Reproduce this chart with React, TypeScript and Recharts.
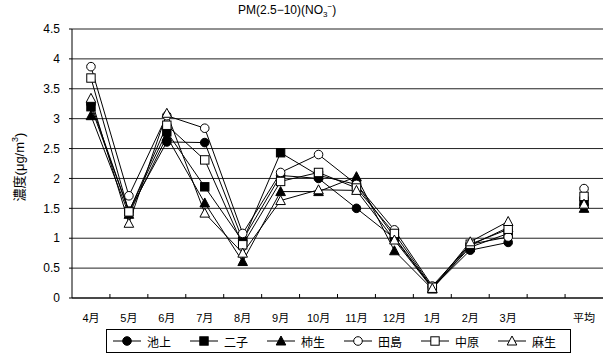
import React from 'react';
import { LineChart, Line, XAxis, YAxis, CartesianGrid, Legend } from 'recharts';

const months = ['4月', '5月', '6月', '7月', '8月', '9月', '10月', '11月', '12月', '1月', '2月', '3月', '', '平均'];

const ikegami = [3.25, 1.45, 2.61, 2.6, 0.97, 2.05, 2.0, 1.5, 1.0, 0.17, 0.8, 0.93, null, 1.55];
const futago = [3.2, 1.45, 2.78, 1.86, 0.95, 2.43, 2.05, 1.9, 1.02, 0.17, 0.85, 1.08, null, 1.62];
const kakio = [3.05, 1.4, 2.7, 1.59, 0.61, 1.78, 1.78, 2.03, 0.79, 0.15, 0.88, 1.18, null, 1.5];
const tajima = [3.87, 1.71, 3.05, 2.84, 1.08, 2.1, 2.4, 1.9, 1.14, 0.2, 0.9, 1.02, null, 1.83];
const nakahara = [3.68, 1.44, 2.89, 2.31, 0.89, 1.95, 2.1, 1.84, 1.08, 0.18, 0.9, 1.15, null, 1.7];
const asao = [3.34, 1.25, 3.09, 1.42, 0.75, 1.63, 1.81, 1.8, 0.97, 0.16, 0.94, 1.28, null, 1.57];

const yTicks = [0, 0.5, 1, 1.5, 2, 2.5, 3, 3.5, 4, 4.5];

const SERIES = [
  { key: 'ikegami', name: '池上', shape: 'circle', filled: true, values: ikegami },
  { key: 'futago', name: '二子', shape: 'square', filled: true, values: futago },
  { key: 'kakio', name: '柿生', shape: 'triangle', filled: true, values: kakio },
  { key: 'tajima', name: '田島', shape: 'circle', filled: false, values: tajima },
  { key: 'nakahara', name: '中原', shape: 'square', filled: false, values: nakahara },
  { key: 'asao', name: '麻生', shape: 'triangle', filled: false, values: asao },
];

const data = months.map((m, i) => {
  const row: any = { month: m };
  SERIES.forEach(s => { row[s.key] = s.values[i]; });
  return row;
});

const FONT = '"Liberation Sans", Arial, "Noto Sans CJK JP", sans-serif';
const BAND = 531 / months.length;
const LEGEND_H = 24;

function Marker({ cx, cy, shape, filled }: any) {
  const fill = filled ? '#000' : '#fff';
  if (shape === 'circle') return <circle cx={cx} cy={cy} r={4.3} fill={fill} stroke="#000" strokeWidth={1} />;
  if (shape === 'square') return <rect x={cx - 4.2} y={cy - 4.2} width={8.4} height={8.4} fill={fill} stroke="#000" strokeWidth={1} />;
  return <polygon points={`${cx},${cy - 5} ${cx - 4.8},${cy + 4} ${cx + 4.8},${cy + 4}`} fill={fill} stroke="#000" strokeWidth={1} />;
}

function renderDot(s: any) {
  return (props: any) => {
    const { cx, cy, value, index } = props;
    if (value == null || cy == null) return <g key={`${s.key}-${index}`} />;
    return <Marker key={`${s.key}-${index}`} cx={cx} cy={cy} shape={s.shape} filled={s.filled} />;
  };
}

function MonthTick({ x, y, payload, index }: any) {
  return (
    <g>
      {index > 0 && <line x1={x - BAND / 2} x2={x - BAND / 2} y1={y} y2={y - 4} stroke="#000" />}
      <text x={x} y={y + 24} textAnchor="middle" fontSize={11} fill="#000" fontFamily={FONT}>{payload.value}</text>
    </g>
  );
}

function LegendBox() {
  return (
    <div style={{ border: '1px solid #000', height: LEGEND_H, display: 'flex', alignItems: 'center', paddingLeft: 6, gap: 19, fontSize: 12, fontFamily: FONT, boxSizing: 'border-box' }}>
      {SERIES.map(s => (
        <div key={s.key} style={{ display: 'flex', alignItems: 'center', gap: 6 }}>
          <svg width={28} height={12}>
            <line x1={0} x2={28} y1={6} y2={6} stroke="#000" />
            <Marker cx={14} cy={6} shape={s.shape} filled={s.filled} />
          </svg>
          <span>{s.name}</span>
        </div>
      ))}
    </div>
  );
}

export default function App() {
  return (
    <div style={{ position: 'absolute', left: 0, top: 0, width: 603, height: 360, background: '#fff', fontFamily: FONT }}>
      <div style={{ position: 'absolute', left: 238, top: 2, fontSize: 12, whiteSpace: 'nowrap', zIndex: 2 }}>
        PM(2.5−10)(NO<sub style={{ fontSize: 8 }}>3</sub><sup style={{ fontSize: 8 }}>−</sup>)
      </div>
      <div style={{ position: 'absolute', left: 18, top: 167, transform: 'translate(-50%, -50%) rotate(-90deg)', fontSize: 13, whiteSpace: 'nowrap', zIndex: 2 }}>
        濃度(μg/m<sup style={{ fontSize: 9 }}>3</sup>)
      </div>
      <LineChart width={603} height={360} data={data} margin={{ top: 29, right: 0, left: 0, bottom: 0 }}>
        <CartesianGrid vertical={false} stroke="#222" strokeWidth={1} />
        <XAxis
          dataKey="month"
          height={62 - LEGEND_H}
          interval={0}
          padding={{ left: BAND / 2, right: BAND / 2 }}
          tickLine={false}
          tickSize={0}
          tickMargin={0}
          axisLine={{ stroke: '#000' }}
          tick={<MonthTick />}
        />
        <YAxis
          width={72}
          domain={[0, 4.5]}
          ticks={yTicks}
          interval={0}
          tickSize={3}
          tickMargin={9}
          tickLine={{ stroke: '#000' }}
          axisLine={{ stroke: '#000' }}
          tick={{ fontSize: 12, fill: '#000', fontFamily: FONT }}
        />
        {SERIES.map(s => (
          <Line
            key={s.key}
            dataKey={s.key}
            name={s.name}
            stroke="#000"
            strokeWidth={1}
            isAnimationActive={false}
            connectNulls={false}
            dot={renderDot(s)}
            activeDot={false}
          />
        ))}
        <Legend
          content={<LegendBox />}
          wrapperStyle={{ position: 'absolute', left: 106, top: 329, width: 465, height: LEGEND_H, bottom: 'auto' }}
        />
      </LineChart>
    </div>
  );
}
